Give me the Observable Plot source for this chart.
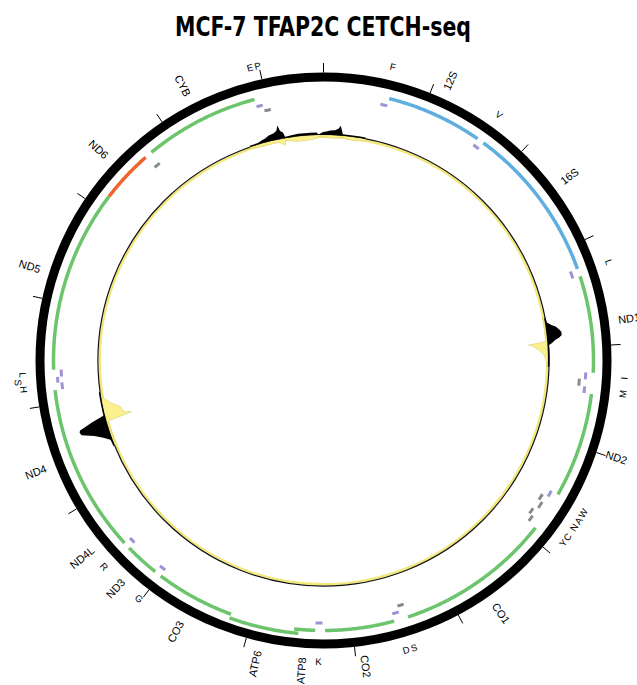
<!DOCTYPE html>
<html><head><meta charset="utf-8">
<script src="https://cdn.jsdelivr.net/npm/d3@7"></script>
<script src="https://cdn.jsdelivr.net/npm/@observablehq/plot@0.6"></script>
<style>
body{margin:0;background:#fff;}
#title{height:40px;line-height:40px;padding-top:7px;text-align:left;position:relative;}
#title span{position:absolute;left:0;top:7px;display:inline-block;white-space:nowrap;font-family:"Liberation Sans Narrow","DejaVu Sans Condensed",sans-serif;font-weight:bold;font-size:27px;color:#000;transform-origin:0 50%;}
#chart svg{display:block;overflow:visible;}
</style></head><body>
<div id="title"><span id="titletext">MCF-7 TFAP2C CETCH-seq</span></div>
<div id="chart"></div>
<script>
const genomeLength = 16569;
const tickPositions = [0,1000,2000,3000,4000,5000,6000,7000,8000,9000,10000,11000,12000,13000,14000,15000,16000];

// genes (name, start, end, type)
const geneNames  = ["12S","16S","ND1","ND2","CO1","CO2","ATP8","ATP6","CO3","ND3","ND4L","ND4","ND5","ND6","CYB"];
const geneStarts = [648,1671,3307,4470,5904,7586,8366,8527,9207,10059,10470,10760,12337,14149,14747];
const geneEnds   = [1601,3229,4262,5511,7445,8269,8572,9207,9990,10404,10766,12137,14148,14673,15887];
const geneTypes  = ["rRNA","rRNA","H","H","H","H","H","Hout","H","H","H","H","H","L","H"];

// tRNAs (name, start, end, strand, stacking level)
const trnaNames   = ["F","V","L1","I","Q","M","W","A","N","C","Y","S1","D","K","G","R","H","S2","L2","E","T","P"];
const trnaStarts  = [577,1602,3230,4263,4329,4402,5512,5587,5657,5761,5826,7446,7518,8295,9991,10405,12138,12207,12266,14674,15888,15956];
const trnaEnds    = [647,1670,3304,4331,4400,4469,5579,5655,5729,5826,5891,7514,7585,8364,10058,10469,12206,12265,12336,14742,15953,16023];
const trnaStrands = ["+","+","+","+","-","+","+","-","-","-","-","-","+","+","+","+","+","+","+","-","+","-"];
const trnaLevels  = [0,0,0,0,0,0,0,0,1,0,1,0,0,0,0,0,0,1,0,0,0,0];

// labels
const geneLabelTexts = ["12S","16S","ND1","ND2","CO1","CO2","ATP8","ATP6","CO3","ND3","ND4L","ND4","ND5","ND6","CYB"];
const geneLabelPos   = [1124,2450,3784,4990,6674,7927,8469,8867,9598,10231,10618,11448,13242,14411,15317];
const trnaLabelTexts = ["F","V","L","I","M","W","A","N","C","Y","S","D","K","G","R","H","S","L","E","P"];
const trnaLabelPos   = [612,1636,3267,4297,4435,5545,5621,5693,5793,5858,7480,7551,8329,10024,10437,12172,12236,12301,15920,15989];
const trnaLabelLevel = [0,0,0,0,0,0,0,0,0,0,0,0,0,0,0,0,1,0,0,0];

// coverage (outward = black, inward = yellow)
const covPos   = [15700,15800,15850,15900,15943,16000,16040,16062,16080,16110,16125,16141,16200,16279,16350,16420,16496,16514,16550,0,40,82,140,180,199,215,231,278,350,436,500,
                  3650,3706,3740,3766,3800,3830,3866,3895,3917,3925,3951,3967,4019,4083,4162,4220,
                  11400,11479,11530,11580,11631,11660,11683,11695,11732,11762,11774,11800,11832,11900,11982,12050];
const covPlus  = [1.5,1.5,3,4,6,7,9,14,8,6,1.5,1.5,2,2.5,2.5,2.5,2.5,0.5,2,3,3.5,4.5,5,7,10,6,1.5,1.5,1.5,1.5,1.5,
                  1.5,2,6,10,13,15,15,12,8,7,4,1.5,1.5,1.5,1.5,1.5,
                  1.5,2,8,16,28,29,28,24,14,4,1.5,1.5,1.5,1.5,1.5,1.5];
const covMinus = [1.5,2.5,3,3,3,3,3,4,5,7,2,2,4,5,5,4.5,3,1.5,1.5,2,2,3,3,2.5,2,1.5,1.5,3,3.5,3,1.5,
                  1.5,1.5,1.5,1.5,1.5,1.5,1.5,1.5,1.5,2,19,15,9,4,1.5,1.5,
                  1.5,1.5,1.5,1.5,1.5,1.5,1.5,1.5,27,19,19,18,17,9,1.5,1.5];

const R_RING = 283.5, R_BASE = 225;
const ang = p => p / genomeLength * 2 * Math.PI;
const X = (p, r) => r * Math.sin(ang(p));
const Y = (p, r) => r * Math.cos(ang(p));
const deg = p => p / genomeLength * 360;

function arc(name, start, end, r) {
  const pts = [];
  for (let p = start; p < end; p += 15) pts.push({name, pos: p, r});
  pts.push({name, pos: end, r});
  return pts;
}

const genes = geneNames.map((n, i) => ({name: n, start: geneStarts[i], end: geneEnds[i], type: geneTypes[i]}));
const geneArc = t => genes.filter(g => g.type === t).flatMap(g => arc(g.name, g.start, g.end, t === "Hout" ? 274 : 270));

const trnas = trnaNames.map((n, i) => ({name: n, start: trnaStarts[i], end: trnaEnds[i], strand: trnaStrands[i], level: trnaLevels[i]}));
const trnaArc = s => trnas.filter(t => t.strand === s).flatMap(t => arc(t.name, t.start, t.end, (s === "+" ? 262.5 : 256.5) + 4 * t.level));

const cov = [];
let seg = 0;
covPos.forEach((p, i) => {
  if (i > 0 && ((p - covPos[i-1] + genomeLength) % genomeLength) > 400) seg++;
  cov.push({pos: p, plus: covPlus[i], minus: covMinus[i], seg});
});

const geneLabels = geneLabelTexts.map((t, i) => ({text: t, pos: geneLabelPos[i], a: deg(geneLabelPos[i])}));
const trnaLabels = trnaLabelTexts.map((t, i) => ({text: t, pos: trnaLabelPos[i], a: deg(trnaLabelPos[i]), level: trnaLabelLevel[i]}));

const FONT = "Liberation Sans, Arial, sans-serif";
const lineOpts = {x: d => X(d.pos, d.r), y: d => Y(d.pos, d.r), z: "name", strokeLinecap: "butt"};

const plot = Plot.plot({
  width: 637, height: 638, margin: 0,
  x: {domain: [-323, 314], axis: null},
  y: {domain: [-325, 313], axis: null},
  style: {background: "transparent", overflow: "visible"},
  marks: [
    // coverage baseline
    Plot.dot([0], {x: () => 0, y: () => 0, r: R_BASE - 1.2, stroke: "#f3e77a", strokeWidth: 2.4, fill: "none"}),
    Plot.dot([0], {x: () => 0, y: () => 0, r: R_BASE + 0.6, stroke: "#111", strokeWidth: 1.2, fill: "none"}),
    Plot.area(cov, {x1: d => X(d.pos, R_BASE - d.minus), y1: d => Y(d.pos, R_BASE - d.minus), x2: d => X(d.pos, R_BASE), y2: d => Y(d.pos, R_BASE), z: "seg", fill: "#faf08c", stroke: "#c9bd5a", strokeWidth: 0.4}),
    Plot.area(cov, {x1: d => X(d.pos, R_BASE + d.plus), y1: d => Y(d.pos, R_BASE + d.plus), x2: d => X(d.pos, R_BASE), y2: d => Y(d.pos, R_BASE), z: "seg", fill: "#000"}),
    // outer ring
    Plot.dot([0], {x: () => 0, y: () => 0, r: R_RING, stroke: "#000", strokeWidth: 9, fill: "none"}),
    Plot.link(tickPositions, {x1: d => X(d, 288), y1: d => Y(d, 288), x2: d => X(d, 297.5), y2: d => Y(d, 297.5), stroke: "#000", strokeWidth: 1}),
    // genes
    Plot.line(geneArc("H"), {...lineOpts, stroke: "#6cc46c", strokeWidth: 3.5}),
    Plot.line(geneArc("Hout"), {...lineOpts, stroke: "#6cc46c", strokeWidth: 3.5}),
    Plot.line(geneArc("rRNA"), {...lineOpts, stroke: "#5eaee0", strokeWidth: 3.5}),
    Plot.line(geneArc("L"), {...lineOpts, stroke: "#f0652c", strokeWidth: 3.5}),
    // tRNAs
    Plot.line(trnaArc("+"), {...lineOpts, stroke: "#9c92d4", strokeWidth: 3}),
    Plot.line(trnaArc("-"), {...lineOpts, stroke: "#8a8a8a", strokeWidth: 3}),
    // gene labels (radial)
    Plot.text(geneLabels.filter(d => d.a < 180), {x: d => X(d.pos, 297.5), y: d => Y(d.pos, 297.5), text: "text", rotate: d => d.a - 90, textAnchor: "start", fontSize: 11, fontFamily: FONT, fill: "#000"}),
    Plot.text(geneLabels.filter(d => d.a >= 180), {x: d => X(d.pos, 297.5), y: d => Y(d.pos, 297.5), text: "text", rotate: d => d.a - 270, textAnchor: "end", fontSize: 11, fontFamily: FONT, fill: "#000"}),
    // tRNA labels (tangential)
    Plot.text(trnaLabels, {x: d => X(d.pos, 301.5 + 5 * d.level), y: d => Y(d.pos, 301.5 + 5 * d.level), text: "text", rotate: d => (d.a > 90 && d.a < 270) ? d.a - 180 : d.a, textAnchor: "middle", fontSize: 9.5, fontFamily: FONT, fill: "#000"})
  ]
});
document.getElementById("chart").appendChild(plot);

// fit the title to the reference width, centred on the circle
const t = document.getElementById("titletext");
const w = t.getBoundingClientRect().width;
const target = 296, cx = 323;
t.style.transform = `translateX(${cx - target / 2}px) scaleX(${target / w})`;
</script>
</body></html>
